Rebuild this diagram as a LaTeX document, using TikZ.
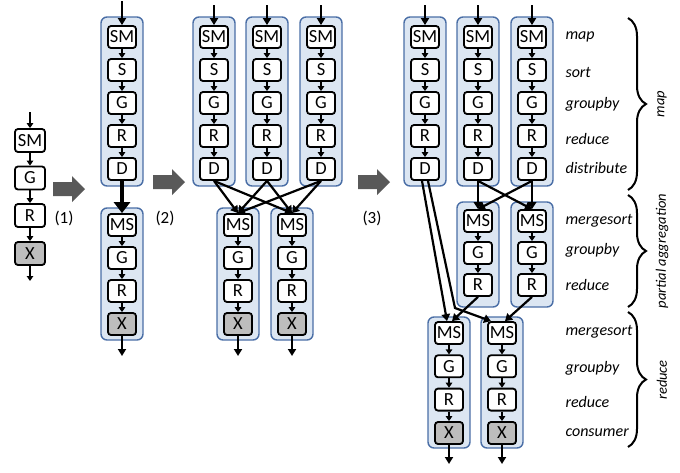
\documentclass[tikz,border=0pt]{standalone}
\usepackage{fontspec}
\setmainfont{Carlito}
\usetikzlibrary{arrows.meta,decorations.pathreplacing,calc}
\definecolor{contfill}{HTML}{DCE6F2}
\definecolor{contdraw}{HTML}{4A6EA6}
\definecolor{bigarrow}{HTML}{595959}
\definecolor{xgray}{HTML}{BDBDBD}
\begin{document}
\begin{tikzpicture}[x=1pt,y=-1pt,
  opbox/.style={draw=black, line width=1.8pt, rounded corners=3pt, fill=white,
    minimum width=28pt, minimum height=22pt, inner sep=0pt,
    font=\fontsize{18.5}{20}\selectfont},
  xbox/.style={opbox, fill=xgray},
  cont/.style={draw=contdraw, line width=1.4pt, fill=contfill, rounded corners=6pt},
  flow/.style={-{Triangle[length=5pt,width=6.5pt]}, line width=1.5pt},
  inflow/.style={-{Triangle[length=7pt,width=8pt]}, line width=2.2pt},
  link/.style={-{Triangle[length=7pt,width=8.5pt]}, line width=2.2pt},
  lab/.style={anchor=west, font=\fontsize{16}{17}\selectfont\itshape},
  steplab/.style={font=\fontsize{17}{18}\selectfont},
  grouplab/.style={rotate=90, font=\fontsize{14.5}{16}\selectfont\itshape},
  bracedeco/.style={decorate, decoration={brace, amplitude=18pt}, line width=2pt},
]
\useasboundingbox (0,0) rectangle (680,472);

% ---------- stage 1 ----------
\foreach \t/\y/\n in {SM/140.5/a1, G/178/a2, R/215.5/a3}
  \node[opbox, minimum width=30pt, minimum height=23pt] (\n) at (30,\y) {\t};
\node[xbox, minimum width=30pt, minimum height=23pt] (a4) at (30,253.5) {X};
\coordinate (ain) at (30,112);
\coordinate (aout) at (30,281);
\draw[flow] (ain) -- (a1);
\draw[flow] (a1) -- (a2);
\draw[flow] (a2) -- (a3);
\draw[flow] (a3) -- (a4);
\draw[flow] (a4) -- (aout);

% ---------- top (map) columns ----------
\foreach \p/\x/\ys in {b/122/1, c/214/5, d/267/5, e/321/5, f/425/5, g/478/5, h/532/5} {
  \draw[cont] (\x-21,17) rectangle (\x+21,186);
  \foreach \t [count=\i] in {SM,S,G,R,D}
    \node[opbox] (\p\i) at (\x,{37+33*(\i-1)}) {\t};
  \coordinate (\p in) at (\x,\ys);
  \draw[inflow] (\p in) -- (\p1.north);
  \draw[flow] (\p1) -- (\p2);
  \draw[flow] (\p2) -- (\p3);
  \draw[flow] (\p3) -- (\p4);
  \draw[flow] (\p4) -- (\p5);
}

% ---------- bottom (reduce) columns of stages 2 and 3 ----------
\foreach \p/\x in {bb/122, ca/238, cb/292} {
  \draw[cont] (\x-21,208) rectangle (\x+21,340);
  \foreach \t [count=\i] in {MS,G,R}
    \node[opbox] (\p\i) at (\x,{225+33*(\i-1)}) {\t};
  \node[xbox] (\p4) at (\x,324) {X};
  \coordinate (\p out) at (\x,356);
  \draw[flow] (\p1) -- (\p2);
  \draw[flow] (\p2) -- (\p3);
  \draw[flow] (\p3) -- (\p4);
  \draw[inflow] (\p4.south) -- (\p out);
}

% ---------- stage 4 partial aggregation ----------
\foreach \p/\x in {m/478, n/532} {
  \draw[cont] (\x-21,202) rectangle (\x+21,307);
  \foreach \t [count=\i] in {MS,G,R}
    \node[opbox] (\p\i) at (\x,{221+32*(\i-1)}) {\t};
  \draw[flow] (\p1) -- (\p2);
  \draw[flow] (\p2) -- (\p3);
}

% ---------- stage 4 reduce ----------
\foreach \p/\x in {p/449, q/502} {
  \draw[cont] (\x-21,317) rectangle (\x+21,448);
  \foreach \t [count=\i] in {MS,G,R}
    \node[opbox] (\p\i) at (\x,{333+33.3*(\i-1)}) {\t};
  \node[xbox] (\p4) at (\x,433) {X};
  \coordinate (\p out) at (\x,464);
  \draw[flow] (\p1) -- (\p2);
  \draw[flow] (\p2) -- (\p3);
  \draw[flow] (\p3) -- (\p4);
  \draw[inflow] (\p4.south) -- (\p out);
}

% ---------- connectors ----------
% stage 2
\draw[line width=4.5pt, -{Triangle[length=11pt,width=16pt]}] (b5.south) -- (bb1.north);
% stage 3
\foreach \s in {c5,d5,e5}
  \foreach \t in {ca1,cb1}
    \draw[link] (\s.south) -- (\t.north);
% stage 4
\draw[link] (g5.south) -- (m1.north);
\draw[link] (g5.south) -- (n1.north);
\draw[link] (h5.south) -- (m1.north);
\draw[link] (h5.south) -- (n1.north);
\coordinate (bend) at (455,308);
\draw[link] ([xshift=-3pt]f5.south) -- ([xshift=-2pt]p1.north);
\draw[link] ([xshift=3pt]f5.south) -- (bend) -- ([xshift=-11pt]q1.north);
\draw[link] (m3.south) -- ([xshift=3pt]p1.north);
\draw[link] (n3.south) -- ([xshift=3pt]q1.north);

% ---------- big step arrows ----------
\fill[bigarrow] (53,182) -- (72,182) -- (72,176) -- (85,189) -- (72,202) -- (72,196) -- (53,196) -- cycle;
\fill[bigarrow] (153,175) -- (172,175) -- (172,169) -- (185,182) -- (172,195) -- (172,189) -- (153,189) -- cycle;
\fill[bigarrow] (358,175) -- (377,175) -- (377,169) -- (390,182) -- (377,195) -- (377,189) -- (358,189) -- cycle;
\node[steplab] (s1) at (64,218) {(1)};
\node[steplab] (s2) at (165,218) {(2)};
\node[steplab] (s3) at (372,218) {(3)};

% ---------- labels ----------
\foreach \t/\y [count=\i] in {map/37, sort/72, groupby/104, reduce/139, distribute/168,
    mergesort/221, groupby/250, reduce/285,
    mergesort/332, groupby/368, reduce/402, consumer/433}
  \node[lab] (l\i) at (562,\y) {\t};

% ---------- braces ----------
\draw[bracedeco] (628,18) -- (628,190);
\draw[bracedeco] (628,195) -- (628,307);
\draw[bracedeco] (628,312) -- (628,447);
\node[grouplab] (g1) at (662,104) {map};
\node[grouplab] (g2) at (662,251) {partial aggregation};
\node[grouplab] (g3) at (662,380) {reduce};
\end{tikzpicture}
\end{document}
